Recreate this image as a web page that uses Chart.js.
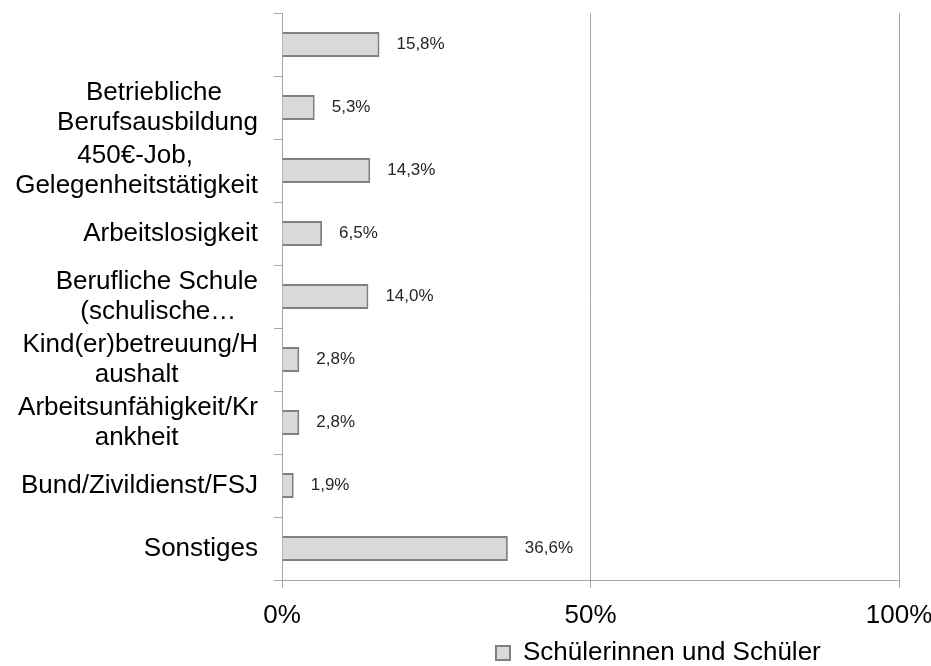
<!DOCTYPE html>
<html>
<head>
<meta charset="utf-8">
<script src="https://cdn.jsdelivr.net/npm/chart.js@4/dist/chart.umd.min.js"></script>
<style>
  body { margin: 0; background: #fff; }
  #box { width: 931px; height: 666px; }
</style>
</head>
<body>
<div id="box"><canvas id="chart"></canvas></div>
<script>
const categories = [
  '',
  ['Betriebliche', 'Berufsausbildung'],
  ['450€-Job,', 'Gelegenheitstätigkeit'],
  'Arbeitslosigkeit',
  ['Berufliche Schule', '(schulische…'],
  ['Kind(er)betreuung/H', 'aushalt'],
  ['Arbeitsunfähigkeit/Kr', 'ankheit'],
  'Bund/Zivildienst/FSJ',
  'Sonstiges'
];
const values = [15.8, 5.3, 14.3, 6.5, 14.0, 2.8, 2.8, 1.9, 36.6];
const xTicks = [0, 50, 100];
const seriesName = 'Schülerinnen und Schüler';

const FONT = '"Liberation Sans", Arial, sans-serif';
const GRID = '#a6a6a6';
Chart.defaults.font.family = FONT;

// excel centres the lines of a wrapped label, chart.js right-aligns them,
// so pad the shorter lines with spaces
const measure = document.createElement('canvas').getContext('2d');
measure.font = '26px ' + FONT;
function centerLines(label) {
  if (!Array.isArray(label)) return label;
  const widths = label.map(l => measure.measureText(l).width);
  const max = Math.max(...widths);
  const sp = measure.measureText(' ').width;
  return label.map((l, i) => l + ' '.repeat(Math.round((max - widths[i]) / 2 / sp)));
}

const fmt = v => v.toFixed(1).replace('.', ',') + '%';

const valueLabels = {
  id: 'valueLabels',
  afterDatasetsDraw(chart) {
    const ctx = chart.ctx;
    const meta = chart.getDatasetMeta(0);
    ctx.save();
    ctx.font = '17px ' + FONT;
    ctx.fillStyle = '#262626';
    ctx.textAlign = 'left';
    ctx.textBaseline = 'middle';
    meta.data.forEach((bar, i) => {
      ctx.fillText(fmt(values[i]), bar.x + 17, bar.y);
    });
    ctx.restore();
  }
};

// legend sits right of centre in the original
const legendPos = {
  id: 'legendPos',
  afterLayout(chart) {
    const lg = chart.legend;
    lg.left = 490;
    lg.top = 634;
    lg.bottom = lg.top + lg.height;
  }
};

// no extra room for half labels at the axis ends
const noEdgePad = s => {
  s.paddingTop = 0; s.paddingBottom = 0;
  s.paddingLeft = 0; s.paddingRight = 0;
};

new Chart(document.getElementById('chart'), {
  type: 'bar',
  data: {
    labels: categories.map(centerLines),
    datasets: [{
      label: seriesName,
      data: values,
      backgroundColor: '#d9d9d9',
      borderColor: '#808080',
      borderWidth: 2,
      barPercentage: 0.4,
      categoryPercentage: 1
    }]
  },
  options: {
    indexAxis: 'y',
    responsive: true,
    maintainAspectRatio: false,
    animation: false,
    layout: { padding: { left: 0, right: 32, top: 13, bottom: 0 } },
    scales: {
      x: {
        min: 0,
        max: 100,
        afterBuildTicks: s => { s.ticks = xTicks.map(v => ({ value: v })); },
        afterFit: s => { s.height = 44; noEdgePad(s); },
        ticks: {
          callback: v => v + '%',
          color: '#000',
          font: { size: 26 },
          padding: 12,
          maxRotation: 0
        },
        grid: { color: GRID, tickLength: 8 },
        border: { color: GRID }
      },
      y: {
        afterFit: s => { s.width = 282; noEdgePad(s); },
        ticks: {
          color: '#000',
          font: { size: 26, lineHeight: 1.15 },
          padding: 16,
          autoSkip: false
        },
        grid: { color: GRID, drawOnChartArea: false, tickLength: 8 },
        border: { color: GRID }
      }
    },
    plugins: {
      legend: {
        position: 'bottom',
        align: 'start',
        labels: {
          color: '#000',
          font: { size: 26 },
          boxWidth: 14,
          boxHeight: 14,
          padding: 6
        }
      },
      tooltip: { enabled: false }
    }
  },
  plugins: [valueLabels, legendPos]
});
</script>
</body>
</html>
